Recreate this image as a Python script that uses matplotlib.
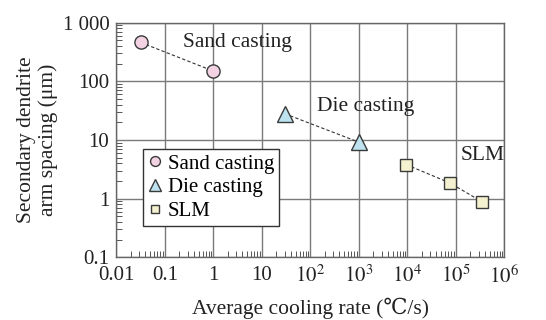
import numpy as np
import matplotlib
matplotlib.use("Agg")
from matplotlib import pyplot as plt
from matplotlib.ticker import LogLocator, NullFormatter

plt.rcParams['font.family'] = ['Liberation Serif', 'DejaVu Serif']
plt.rcParams['mathtext.fontset'] = 'stix'

# data
sand_x = [0.032, 1.0]
sand_y = [460, 150]
die_x = [30, 1000]
die_y = [28, 9.2]
slm_x = [9500, 7.6e4, 3.5e5]
slm_y = [3.8, 1.85, 0.88]

xticks = [0.01, 0.1, 1, 10, 1e2, 1e3, 1e4, 1e5, 1e6]
xlabels = ['0.01', '0.1', '1', '10', r'$10^2$', r'$10^3$', r'$10^4$', r'$10^5$', r'$10^6$']
yticks = [0.1, 1, 10, 100, 1000]
ylabels = ['0.1', '1', '10', '100', '1 000']

fig = plt.figure(figsize=(5.46, 3.2), dpi=100)
ax = fig.add_axes([0.213, 0.196, 0.7106, 0.733])

edge = '#3a3a3a'
# dashed trend lines
for xs, ys in [(sand_x, sand_y), (die_x, die_y), (slm_x, slm_y)]:
    ax.plot(xs, ys, ls='--', color='#333333', lw=0.8, dashes=(3, 2), zorder=2)

ax.plot(sand_x, sand_y, 'o', ms=9.5, mfc='#f3d3e3', mec=edge, mew=1, ls='none', label='Sand casting', zorder=3)
ax.plot(die_x, die_y, '^', ms=11, mfc='#bde3f0', mec=edge, mew=1, ls='none', label='Die casting', zorder=3)
ax.plot(slm_x, slm_y, 's', ms=8, mfc='#f3f1cf', mec=edge, mew=1, ls='none', label='SLM', zorder=3)

ax.set_xscale('log')
ax.set_yscale('log')
ax.set_xlim(0.01, 1e6)
ax.set_ylim(0.1, 1000)

ax.set_xticks(xticks)
ax.set_xticklabels(xlabels)
ax.set_yticks(yticks)
ax.set_yticklabels(ylabels)
ax.xaxis.set_minor_locator(LogLocator(base=10, subs=np.arange(2, 10), numticks=20))
ax.yaxis.set_minor_locator(LogLocator(base=10, subs=np.arange(2, 10), numticks=20))
ax.xaxis.set_minor_formatter(NullFormatter())
ax.yaxis.set_minor_formatter(NullFormatter())

ax.tick_params(which='both', direction='in', colors='#555555', labelcolor='#222222', labelsize=15)
ax.tick_params(axis='x', which='major', length=0, pad=6)
ax.tick_params(axis='y', which='major', length=0, pad=5)
ax.tick_params(which='minor', length=4, width=0.7)

ax.grid(True, which='major', color='#7a7a7a', lw=1)
for s in ax.spines.values():
    s.set_color('#666666')
    s.set_linewidth(1)

ax.text(0.235, 460, 'Sand casting', fontsize=15.5, color='#222222', va='center')
ax.text(135, 37, 'Die casting', fontsize=15.5, color='#222222', va='center')
ax.text(1.28e5, 5.5, 'SLM', fontsize=15.5, color='#222222', va='center')

ax.set_xlabel('Average cooling rate (\u2103/s)', fontsize=15.5, color='#222222', labelpad=7)
ax.set_ylabel('Secondary dendrite\narm spacing (\u03bcm)', fontsize=15.5, color='#222222',
              linespacing=1.15, labelpad=3)

leg = ax.legend(loc='upper left', bbox_to_anchor=(0.068, 0.462), borderaxespad=0,
                fontsize=15, fancybox=False, framealpha=1, edgecolor='#333333',
                handlelength=0.7, handletextpad=0.25, borderpad=0.25, labelspacing=0.2,
                markerscale=0.75)
leg.get_frame().set_linewidth(1)

fig.savefig('out.png', dpi=100)
